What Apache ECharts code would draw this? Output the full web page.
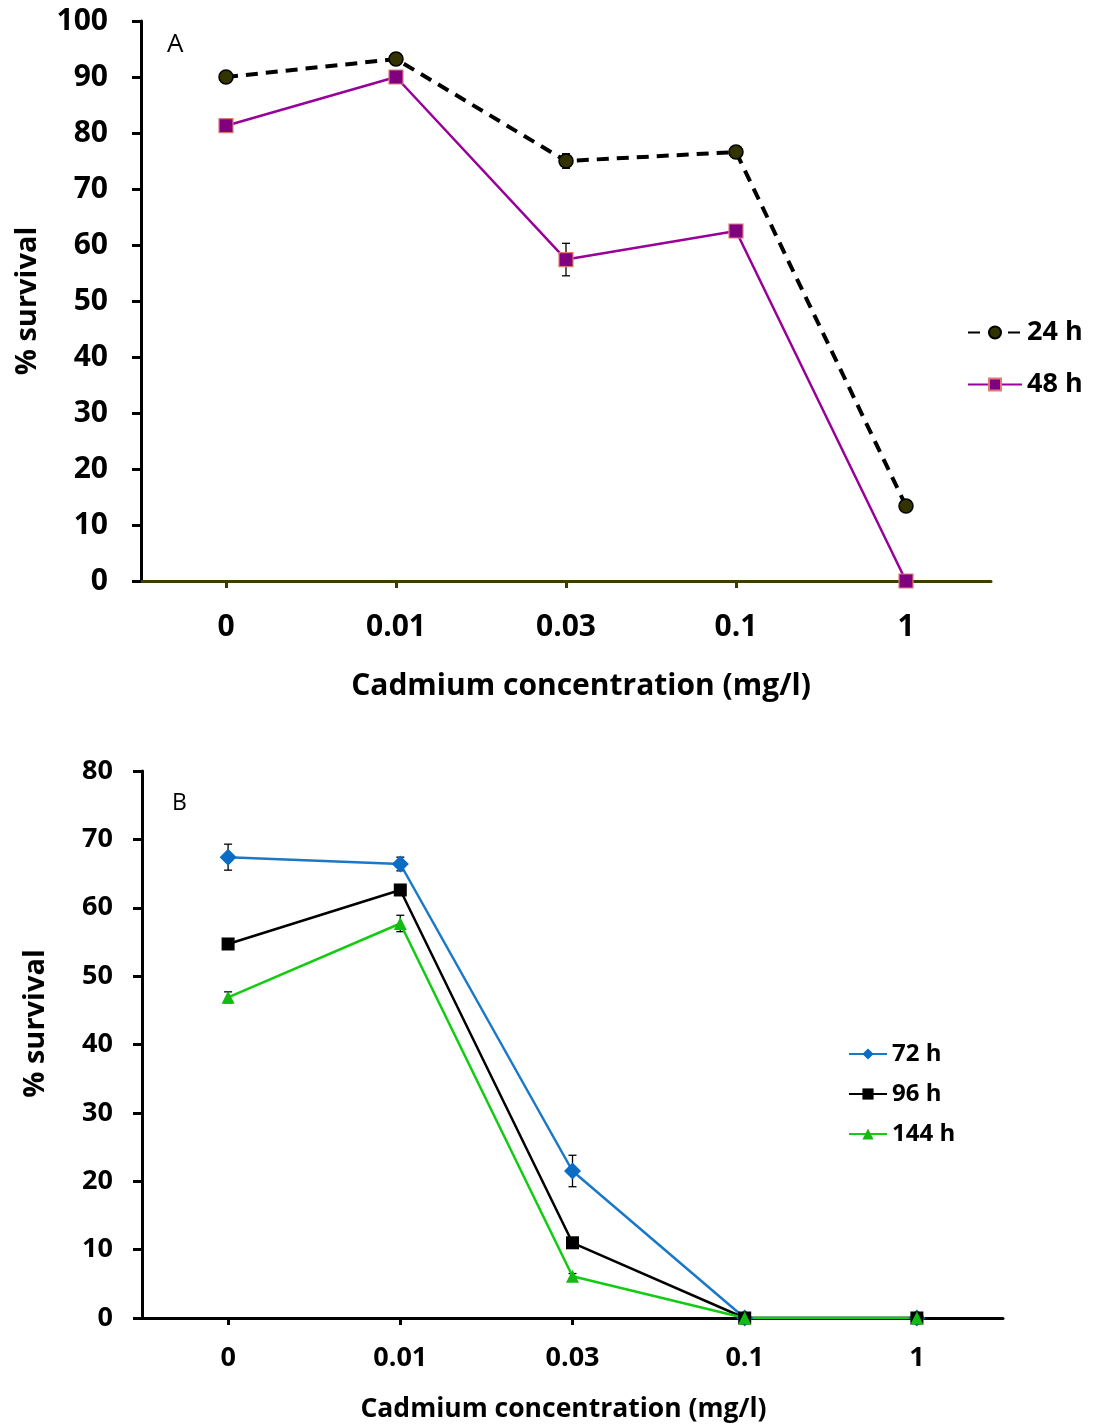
<!DOCTYPE html>
<html>
<head>
<meta charset="utf-8">
<script src="https://cdn.jsdelivr.net/npm/echarts@6/dist/echarts.min.js"></script>
<style>
  html, body { margin: 0; padding: 0; background: #fff; }
  #chart { width: 1095px; height: 1426px; }
</style>
</head>
<body>
<div id="chart"></div>
<script>
// Cadmium concentrations (mg/l) on the category axis
const concentrations = ['0', '0.01', '0.03', '0.1', '1'];

// Panel A: % survival after 24 h and 48 h, with standard errors
const survival24h = [90.0, 93.2, 75.0, 76.6, 13.4];
const error24h    = [0.6, 0.6, 1.3, 0.6, 0.6];
const survival48h = [81.3, 90.0, 57.4, 62.5, 0];
const error48h    = [0.6, 0.6, 2.9, 0.6, 0];

// Panel B: % survival after 72 h, 96 h and 144 h, with standard errors
const survival72h  = [67.4, 66.4, 21.5, 0, 0];
const error72h     = [1.9, 1.0, 2.3, 0, 0];
const survival96h  = [54.7, 62.6, 11.0, 0, 0];
const error96h     = [0.5, 0.5, 0.6, 0, 0];
const survival144h = [46.9, 57.7, 6.1, 0, 0];
const error144h    = [0.8, 1.2, 0.4, 0, 0];

// Y-axis ranges of both panels
const yRangeA = { min: 0, max: 100, interval: 10 };
const yRangeB = { min: 0, max: 80, interval: 10 };

const FONT = '"Open Sans", Lato, sans-serif';

// Vertical error bars with caps, positioned through the axes
function errorBars(name, values, errors, axisIndex, z) {
  return {
    type: 'custom',
    name: name + ' SE',
    xAxisIndex: axisIndex,
    yAxisIndex: axisIndex,
    z: z,
    silent: true,
    data: values.map((v, i) => [i, v - errors[i], v + errors[i]]),
    renderItem: function (params, api) {
      const lo = api.coord([api.value(0), api.value(1)]);
      const hi = api.coord([api.value(0), api.value(2)]);
      const cap = 4;
      const style = { stroke: '#000', lineWidth: 1.3 };
      return {
        type: 'group',
        children: [
          { type: 'line', shape: { x1: lo[0], y1: lo[1], x2: hi[0], y2: hi[1] }, style: style },
          { type: 'line', shape: { x1: lo[0] - cap, y1: lo[1], x2: lo[0] + cap, y2: lo[1] }, style: style },
          { type: 'line', shape: { x1: hi[0] - cap, y1: hi[1], x2: hi[0] + cap, y2: hi[1] }, style: style }
        ]
      };
    }
  };
}

function lineSeries(name, values, axisIndex, opts) {
  return Object.assign({
    type: 'line',
    name: name,
    xAxisIndex: axisIndex,
    yAxisIndex: axisIndex,
    data: values,
    z: 3
  }, opts);
}

function categoryAxis(gridIndex, axisColor, labelSize, nameSize, labelMargin, nameGap, namePadding) {
  return {
    type: 'category',
    gridIndex: gridIndex,
    data: concentrations,
    boundaryGap: true,
    axisLine: { show: true, onZero: false, lineStyle: { color: axisColor, width: 3 } },
    axisTick: { show: true, interval: 0, alignWithLabel: true, inside: false, length: 7, lineStyle: { color: axisColor, width: 3 } },
    axisLabel: { color: '#000', fontFamily: FONT, fontWeight: 'bold', fontSize: labelSize, margin: labelMargin },
    name: 'Cadmium concentration (mg/l)',
    nameLocation: 'middle',
    nameGap: nameGap,
    nameTextStyle: { color: '#000', fontFamily: FONT, fontWeight: 'bold', fontSize: nameSize, padding: namePadding },
    splitLine: { show: false }
  };
}

function valueAxis(gridIndex, range, labelSize, nameSize, labelMargin, nameGap, namePadding) {
  return {
    type: 'value',
    gridIndex: gridIndex,
    min: range.min,
    max: range.max,
    interval: range.interval,
    axisLine: { show: true, lineStyle: { color: '#000', width: 3 } },
    axisTick: { show: true, length: 9, lineStyle: { color: '#000', width: 3 } },
    axisLabel: { color: '#000', fontFamily: FONT, fontWeight: 'bold', fontSize: labelSize, margin: labelMargin },
    splitLine: { show: false },
    name: '% survival',
    nameLocation: 'middle',
    nameRotate: 90,
    nameGap: nameGap,
    nameTextStyle: { color: '#000', fontFamily: FONT, fontWeight: 'bold', fontSize: nameSize, padding: namePadding }
  };
}

const chart = echarts.init(document.getElementById('chart'), null, { renderer: 'canvas' });

chart.setOption({
  animation: false,
  backgroundColor: '#fff',
  grid: [
    { left: 141, right: 104, top: 21, height: 560 },
    { left: 142, right: 92, top: 771, height: 547 }
  ],
  xAxis: [
    categoryAxis(0, '#3d3d00', 30, 30, 31, 90, [0, 0, 0, 30]),
    categoryAxis(1, '#000', 27, 26.5, 27, 78, [0, 18, 0, 0])
  ],
  yAxis: [
    valueAxis(0, yRangeA, 30, 29, 33, 99, [0, 0, 0, 0]),
    valueAxis(1, yRangeB, 27, 29, 29, 92, [0, 0, 0, 42])
  ],
  title: [
    { text: 'A', left: 162, top: 27, textStyle: { fontFamily: FONT, fontWeight: 'normal', fontSize: 26, color: '#000' } },
    { text: 'B', left: 167, top: 787, textStyle: { fontFamily: FONT, fontWeight: 'normal', fontSize: 23, color: '#000' } }
  ],
  legend: [
    {
      data: ['24 h', '48 h'],
      orient: 'vertical',
      left: 962,
      top: 314,
      itemWidth: 54,
      itemHeight: 15,
      itemGap: 25,
      itemTextGap: 10,
      textStyle: { fontFamily: FONT, fontWeight: 'bold', fontSize: 27, color: '#000' }
    },
    {
      data: ['72 h', '96 h', '144 h'],
      orient: 'vertical',
      left: 843,
      top: 1037,
      itemWidth: 38,
      itemHeight: 14,
      itemGap: 16,
      itemTextGap: 3,
      textStyle: { fontFamily: FONT, fontWeight: 'bold', fontSize: 24, color: '#000' }
    }
  ],
  series: [
    errorBars('24 h', survival24h, error24h, 0, 2),
    errorBars('48 h', survival48h, error48h, 0, 2),
    lineSeries('24 h', survival24h, 0, {
      symbol: 'circle', symbolSize: 14,
      lineStyle: { color: '#000', width: 4, type: [12, 8] },
      itemStyle: { color: '#333300', borderColor: '#000', borderWidth: 1.5 }
    }),
    lineSeries('48 h', survival48h, 0, {
      symbol: 'rect', symbolSize: 14,
      lineStyle: { color: '#990099', width: 2.5 },
      itemStyle: { color: '#800080', borderColor: '#e07a7a', borderWidth: 1.2 }
    }),

    errorBars('72 h', survival72h, error72h, 1, 2),
    errorBars('96 h', survival96h, error96h, 1, 2),
    errorBars('144 h', survival144h, error144h, 1, 2),
    lineSeries('72 h', survival72h, 1, {
      symbol: 'diamond', symbolSize: 17,
      lineStyle: { color: '#1a78c8', width: 2.5 },
      itemStyle: { color: '#0a6cc4' }
    }),
    lineSeries('96 h', survival96h, 1, {
      symbol: 'rect', symbolSize: 13,
      lineStyle: { color: '#000', width: 2.5 },
      itemStyle: { color: '#000' }
    }),
    lineSeries('144 h', survival144h, 1, {
      symbol: 'triangle', symbolSize: 13,
      lineStyle: { color: '#11cc11', width: 2.5 },
      itemStyle: { color: '#11bb11' }
    })
  ]
});
</script>
</body>
</html>
